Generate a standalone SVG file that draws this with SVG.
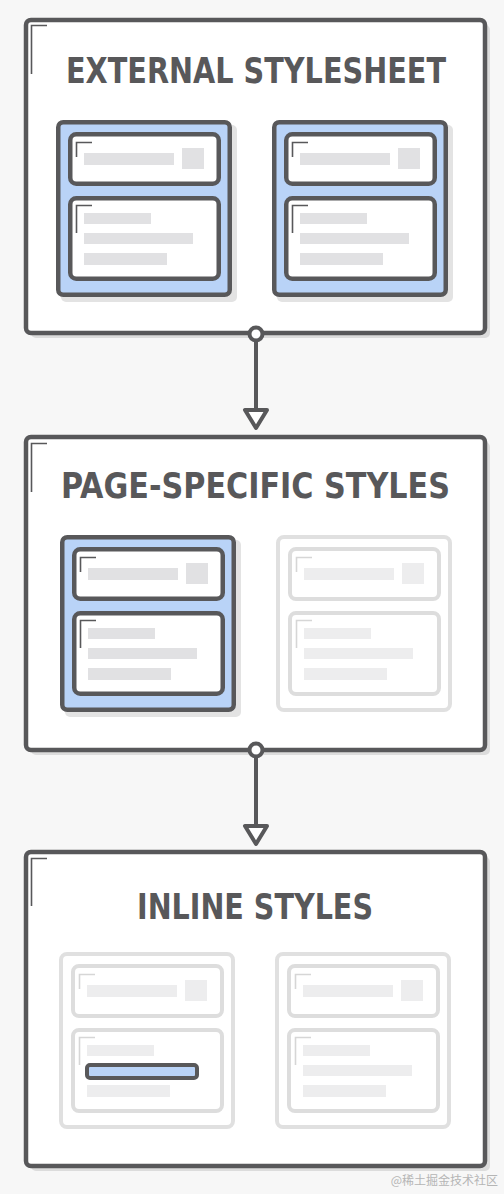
<svg xmlns="http://www.w3.org/2000/svg" xmlns:xlink="http://www.w3.org/1999/xlink" width="504" height="1194" viewBox="0 0 504 1194">
<style>
.bg{fill:#f7f7f7}
.bshadow{fill:#dcdcdc}
.box{fill:#ffffff;stroke:#58585a;stroke-width:4.5}
.mark{fill:none;stroke:#58585a;stroke-width:1.6}
.title{font-family:"DejaVu Sans Condensed","DejaVu Sans",sans-serif;font-weight:bold;font-size:35px;fill:#58585a;text-anchor:middle}
.pshadow{fill:#e3e3e3}
.panel{fill:#b9d3f7;stroke:#58585a;stroke-width:4.5}
.card{fill:#ffffff;stroke:#58585a;stroke-width:4.5}
.bar{fill:#e1e1e3}
.fpanel{fill:#ffffff;stroke:#e0e0e0;stroke-width:4}
.fcard{fill:#ffffff;stroke:#dddddd;stroke-width:4}
.fbar{fill:#ededee}
.fmark{fill:none;stroke:#d6d6d6;stroke-width:1.6}
.hl{fill:#b9d3f7;stroke:#58585a;stroke-width:4}
.conn{fill:#ffffff;stroke:#58585a;stroke-width:4;stroke-linejoin:round}
.wm{font-family:"Noto Sans CJK SC","Liberation Sans",sans-serif;font-size:12px;fill:#b5b5b5;text-anchor:end}
</style>
<defs>
<g id="panelOn">
<rect class="pshadow" x="5" y="5" width="176" height="177" rx="5"/>
<rect class="panel" x="2.25" y="2.25" width="171.5" height="172.5" rx="5"/>
<rect class="card" x="14.25" y="14.25" width="148.5" height="49.5" rx="6"/>
<path class="mark" d="M20.5,37 V22.5 H36"/>
<rect class="bar" x="28" y="33" width="90" height="12"/>
<rect class="bar" x="126" y="28" width="22" height="21"/>
<rect class="card" x="14.25" y="78.25" width="148.5" height="80.5" rx="6"/>
<path class="mark" d="M20.5,113 V85.5 H36"/>
<rect class="bar" x="28" y="93" width="67" height="11"/>
<rect class="bar" x="28" y="113" width="109" height="11"/>
<rect class="bar" x="28" y="133" width="83" height="12"/>
</g>
<g id="panelOffBase">
<rect class="fpanel" x="2" y="2" width="172" height="173" rx="6"/>
<rect class="fcard" x="14" y="14" width="149" height="50" rx="6"/>
<path class="fmark" d="M20.5,37 V22.5 H36"/>
<rect class="fbar" x="28" y="33" width="90" height="12"/>
<rect class="fbar" x="126" y="28" width="22" height="21"/>
<rect class="fcard" x="14" y="78" width="149" height="81" rx="6"/>
<path class="fmark" d="M20.5,113 V85.5 H36"/>
<rect class="fbar" x="28" y="93" width="67" height="11"/>
<rect class="fbar" x="28" y="133" width="83" height="12"/>
</g>
<g id="panelOff">
<use xlink:href="#panelOffBase"/>
<rect class="fbar" x="28" y="113" width="109" height="11"/>
</g>
</defs>
<rect class="bg" x="0" y="0" width="504" height="1194"/>

<g id="external-stylesheet">
<rect class="bshadow" x="31" y="25" width="459" height="313" rx="5"/>
<rect class="box" x="26" y="20" width="459" height="313" rx="5"/>
<path class="mark" d="M31.5,74 V25.5 H47"/>
<text class="title" x="256" y="83" textLength="380" lengthAdjust="spacingAndGlyphs">EXTERNAL STYLESHEET</text>
<use xlink:href="#panelOn" x="56" y="120"/>
<use xlink:href="#panelOn" x="272" y="120"/>
</g>

<g id="page-specific-styles">
<rect class="bshadow" x="31" y="442" width="459" height="313" rx="5"/>
<rect class="box" x="26" y="437" width="459" height="313" rx="5"/>
<path class="mark" d="M31.5,492 V443.5 H47"/>
<text class="title" x="255.5" y="498" textLength="389" lengthAdjust="spacingAndGlyphs">PAGE-SPECIFIC STYLES</text>
<use xlink:href="#panelOn" x="60" y="535"/>
<use xlink:href="#panelOff" x="276" y="535"/>
</g>

<g id="inline-styles">
<rect class="bshadow" x="31" y="857" width="459" height="314" rx="5"/>
<rect class="box" x="26" y="852" width="459" height="314" rx="5"/>
<path class="mark" d="M31.5,906 V858.5 H47"/>
<text class="title" x="255" y="919" textLength="236" lengthAdjust="spacingAndGlyphs">INLINE STYLES</text>
<use xlink:href="#panelOffBase" x="59" y="952"/>
<rect class="hl" x="87" y="1065" width="110" height="13" rx="3"/>
<use xlink:href="#panelOff" x="275" y="952"/>
</g>

<g id="connectors">
<line class="conn" x1="256" y1="340" x2="256" y2="410"/>
<circle class="conn" cx="256" cy="334" r="6.5"/>
<polygon class="conn" points="245,410 267,410 256,428"/>
<line class="conn" x1="256" y1="756" x2="256" y2="826"/>
<circle class="conn" cx="256" cy="750" r="6.5"/>
<polygon class="conn" points="245,826 267,826 256,844"/>
</g>

<text class="wm" x="498" y="1185">@稀土掘金技术社区</text>
</svg>
